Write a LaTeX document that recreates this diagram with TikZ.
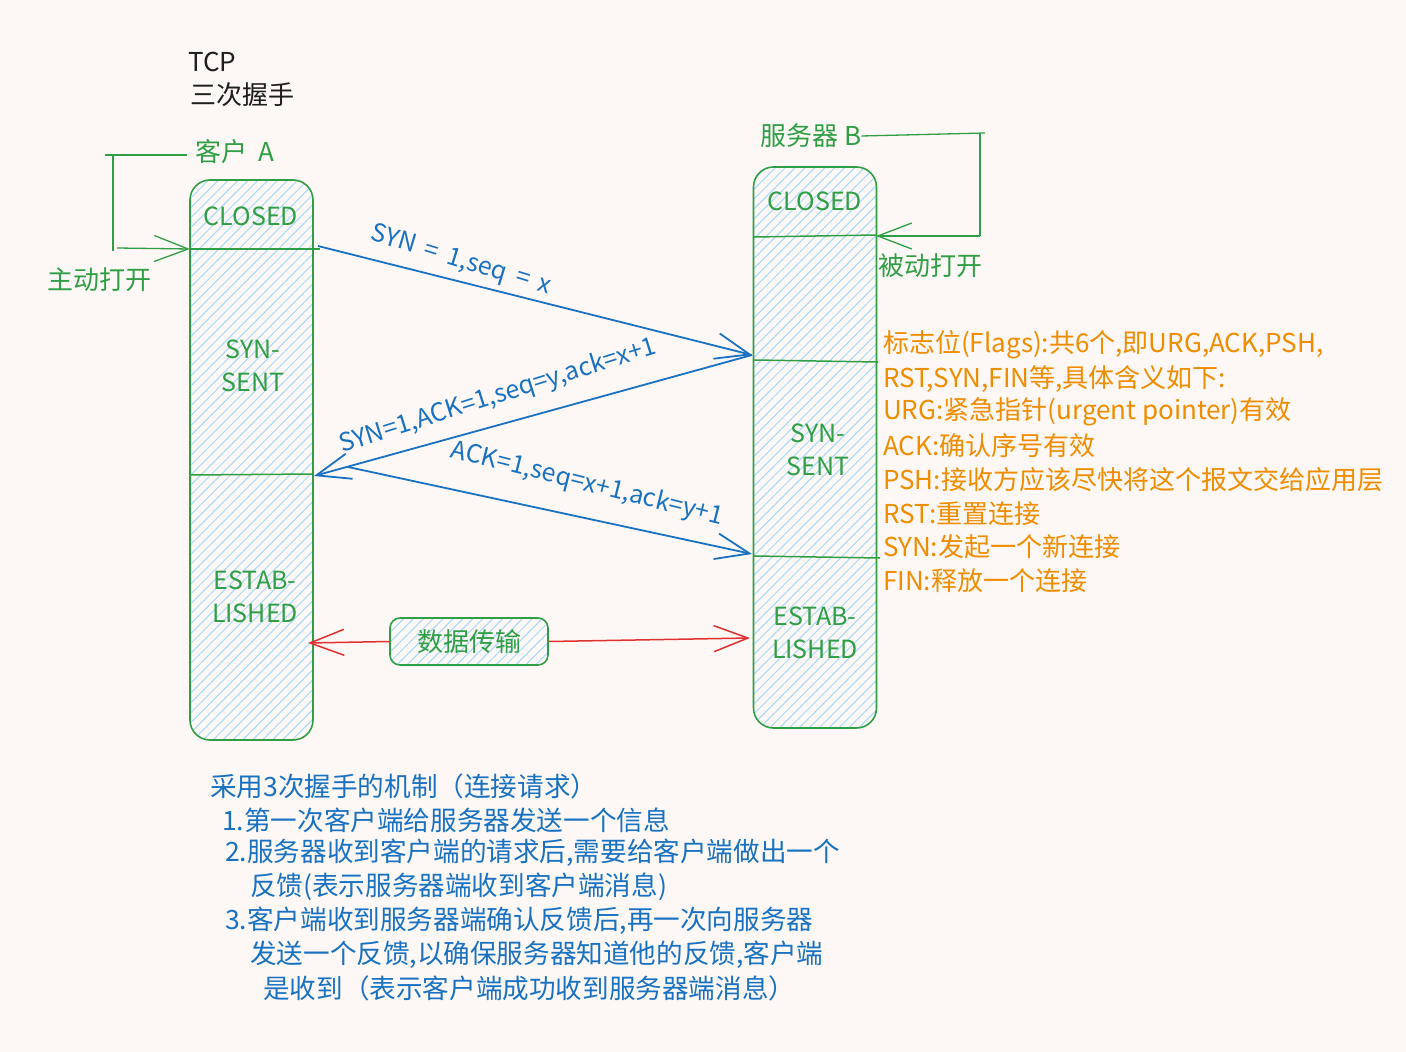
\documentclass[tikz,border=0pt]{standalone}
\usepackage{fontspec}
\setmainfont{Noto Sans CJK SC}
\usetikzlibrary{arrows.meta,patterns.meta}
\definecolor{bg}{RGB}{253,248,245}
\definecolor{xgreen}{RGB}{47,158,68}
\definecolor{xblue}{RGB}{25,113,194}
\definecolor{xorange}{RGB}{240,140,0}
\definecolor{xred}{RGB}{224,49,49}
\definecolor{xhatch}{RGB}{165,216,255}
\definecolor{xdark}{RGB}{30,30,30}
\begin{document}
\begin{tikzpicture}[x=1pt,y=-1pt,
  hatchbox/.style={draw=xgreen,line width=1.6pt,
    pattern={Lines[angle=45,distance=7pt,line width=1pt]},pattern color=xhatch,inner sep=0pt},
  col/.style={hatchbox,rounded corners=20pt,minimum width=123pt},
  divider/.style={draw=xgreen,line width=1.5pt},
  gline/.style={draw=xgreen,line width=1.3pt},
  tip/.style={-{Straight Barb[length=34pt,width=26pt]}},
  bluearrow/.style={draw=xblue,line width=1.8pt,tip},
  redarrow/.style={draw=xred,line width=1.5pt,tip},
  gtxt/.style={text=xgreen,font=\fontsize{26}{30}\selectfont,inner sep=0pt,anchor=west},
  state/.style={text=xgreen,font=\fontsize{25}{33}\selectfont,inner sep=0pt,align=center},
  blbl/.style={text=xblue,font=\fontsize{25}{28}\selectfont,inner sep=0pt},
  otxt/.style={text=xorange,font=\fontsize{26}{30}\selectfont,inner sep=0pt,anchor=west},
  ntxt/.style={text=xblue,font=\fontsize{26.6}{30}\selectfont,inner sep=0pt,anchor=west},
  dtxt/.style={text=xdark,font=\fontsize{26}{30}\selectfont,inner sep=0pt,anchor=west}
]
\fill[bg] (0,0) rectangle (1406,1052);
\useasboundingbox (0,0) rectangle (1406,1052);

% title
\node[dtxt] (tcp) at (188,62) {TCP};
\node[dtxt] (title) at (190,95) {三次握手};

% columns
\node[col,minimum height=560pt] (colA) at (251.5,460) {};
\node[col,minimum height=561pt] (colB) at (815,447.5) {};

% dividers
\coordinate (a1l) at (190,249); \coordinate (a1r) at (320,249);
\coordinate (a2l) at (190,475); \coordinate (a2r) at (313,474);
\coordinate (b1l) at (754,237); \coordinate (b1r) at (876,235);
\coordinate (b2l) at (754,360); \coordinate (b2r) at (878,362);
\coordinate (b3l) at (754,556); \coordinate (b3r) at (880,558);
\draw[divider] (a1l) -- (a1r);
\draw[divider] (a2l) -- (a2r);
\draw[divider] (b1l) -- (b1r);
\draw[divider] (b2l) -- (b2r);
\draw[divider] (b3l) -- (b3r);

% state labels
\node[state] (aclosed) at (251,216) {CLOSED};
\node[state] (asyn) at (253,365.5) {SYN-\\SENT};
\node[state] (aest) at (255,596.5) {ESTAB-\\LISHED};
\node[state] (bclosed) at (815,201) {CLOSED};
\node[state] (bsyn) at (818,449.5) {SYN-\\SENT};
\node[state] (best) at (815,632.5) {ESTAB-\\LISHED};

% client label and active open bracket
\node[gtxt] (client) at (195,152) {客户\ \ \textit{A}};
\node[gtxt] (active) at (47,280) {主动打开};
\coordinate (la1) at (105,155);
\coordinate (la2) at (113,155);
\coordinate (la3) at (113,251);
\coordinate (la4) at (117,248);
\draw[gline] (client.west) ++(-8,3) -- (la1);
\draw[gline] (la2) -- (la3);
\draw[gline,tip] (la4) -- (a1l);

% server label and passive open bracket
\node[gtxt] (server) at (760,136) {服务器 B};
\node[gtxt] (passive) at (878,266) {被动打开};
\coordinate (lb1) at (985,133);
\coordinate (lb2) at (980,133);
\coordinate (lb3) at (980,236);
\coordinate (lb4) at (876,236);
\draw[gline] (server.east) -- (lb1);
\draw[gline] (lb2) -- (lb3);
\draw[gline,tip] (lb3) -- (lb4);

% handshake arrows
\coordinate (s1) at (318,246);
\coordinate (s2) at (752,355);
\coordinate (s3) at (314,476);
\coordinate (s4) at (348,467);
\coordinate (s5) at (752,554);
\draw[bluearrow] (s1) -- (s2);
\draw[bluearrow] (s2) -- (s3);
\draw[bluearrow] (s4) -- (s5);
\node[blbl,rotate=-17] (l1) at (461,261) {SYN\,\ =\,\ 1,seq\,\ =\,\ x};
\node[blbl,rotate=17.5] (l2) at (498,396) {SYN=1,ACK=1,seq=y,ack=x+1};
\node[blbl,rotate=-14] (l3) at (587,484) {ACK=1,seq=x+1,ack=y+1};

% data transfer
\node[hatchbox,rounded corners=10pt,minimum width=158pt,minimum height=47pt,
  text=xgreen,font=\fontsize{26}{30}\selectfont] (data) at (469,641.5) {数据传输};
\coordinate (dA) at (308,643);
\coordinate (dB) at (750,638);
\draw[redarrow] (data.west) -- (dA);
\draw[redarrow] (data.east) -- (dB);

% flags explanation
\node[otxt] (f1) at (883,345) {标志位(Flags):共6个,即URG,ACK,PSH,};
\node[otxt] (f2) at (883,379) {RST,SYN,FIN等,具体含义如下:};
\node[otxt] (f3) at (883,412) {URG:紧急指针(urgent\ pointer)有效};
\node[otxt] (f4) at (883,446) {ACK:确认序号有效};
\node[otxt] (f5) at (883,480) {PSH:接收方应该尽快将这个报文交给应用层};
\node[otxt] (f6) at (883,514) {RST:重置连接};
\node[otxt] (f7) at (883,547) {SYN:发起一个新连接};
\node[otxt] (f8) at (883,581) {FIN:释放一个连接};

% bottom notes
\node[ntxt] (n1) at (210,786) {采用3次握手的机制（连接请求）};
\node[ntxt] (n2) at (222,820) {1.第一次客户端给服务器发送一个信息};
\node[ntxt] (n3) at (225,853) {2.服务器收到客户端的请求后,需要给客户端做出一个};
\node[ntxt] (n4) at (250,887) {反馈(表示服务器端收到客户端消息)};
\node[ntxt] (n5) at (225,921) {3.客户端收到服务器端确认反馈后,再一次向服务器};
\node[ntxt] (n6) at (250,955) {发送一个反馈,以确保服务器知道他的反馈,客户端};
\node[ntxt] (n7) at (263,988) {是收到（表示客户端成功收到服务器端消息）};
\end{tikzpicture}
\end{document}
